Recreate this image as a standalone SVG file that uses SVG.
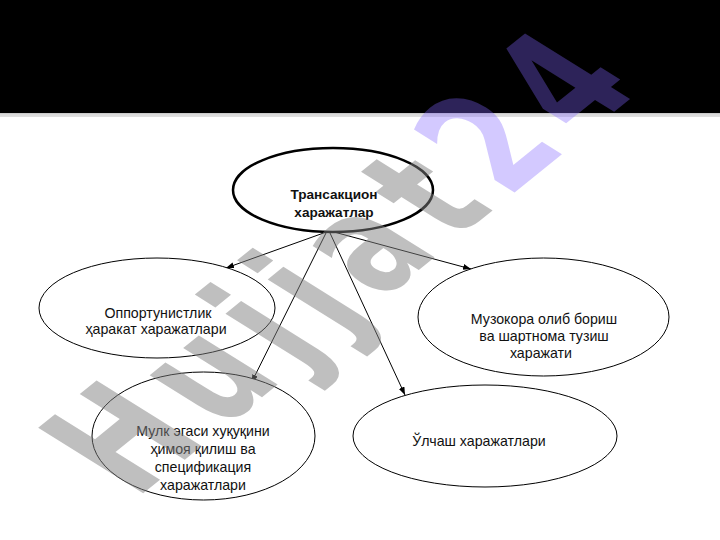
<svg xmlns="http://www.w3.org/2000/svg" width="720" height="540" viewBox="0 0 720 540">
<defs>
<style>
.node ellipse{fill:#fff;stroke:#000;stroke-width:1}
.node.main ellipse{stroke-width:2.5}
.lbl{font-family:"Liberation Sans","DejaVu Sans",sans-serif;font-size:14.2px;fill:#111;text-anchor:middle}
.bold{font-weight:bold;font-size:13.6px}
.conn line{stroke:#000;stroke-width:1;fill:none}
.wm{font-family:"DejaVu Sans",sans-serif;font-weight:bold;font-size:100px;letter-spacing:13px}
</style>
<marker id="arr" markerUnits="userSpaceOnUse" markerWidth="10" markerHeight="8" refX="8" refY="3" orient="auto">
<path d="M0,0 L8,3 L0,6 Z" fill="#000"/>
</marker>
</defs>
<rect x="0" y="0" width="720" height="540" fill="#fff"/>
<rect x="0" y="0" width="720" height="113" fill="#000"/>
<rect x="0" y="113.3" width="720" height="1.2" fill="#b4b4b4"/>
<rect x="0" y="114.5" width="720" height="2.4" fill="#dcdcdc"/>

<g id="connectors" class="conn">
<line x1="325" y1="232.5" x2="226" y2="268" marker-end="url(#arr)"/>
<line x1="334" y1="232" x2="471" y2="269" marker-end="url(#arr)"/>
<line x1="326" y1="233" x2="251.5" y2="382.5" marker-end="url(#arr)"/>
<line x1="330" y1="233" x2="405" y2="395" marker-end="url(#arr)"/>
</g>

<g id="n-main" class="node main">
<ellipse cx="333" cy="190" rx="100" ry="42"/>
<text class="lbl bold" x="334" y="199">Трансакцион</text>
<text class="lbl bold" x="334" y="216.5">харажатлар</text>
</g>

<g id="n-opportunistic" class="node">
<ellipse cx="157" cy="308" rx="118" ry="50"/>
<text class="lbl" x="158" y="317.5">Оппортунистлик</text>
<text class="lbl" x="156" y="334">ҳаракат харажатлари</text>
</g>

<g id="n-negotiation" class="node">
<ellipse cx="543.5" cy="317" rx="125.5" ry="59"/>
<text class="lbl" x="544" y="324">Музокора олиб бориш</text>
<text class="lbl" x="544" y="341">ва шартнома тузиш</text>
<text class="lbl" x="541" y="358">харажати</text>
</g>

<g id="n-property" class="node">
<ellipse cx="203.5" cy="436" rx="111.5" ry="64"/>
<text class="lbl" x="203" y="436">Мулк эгаси хуқуқини</text>
<text class="lbl" x="203" y="454">ҳимоя қилиш ва</text>
<text class="lbl" x="203" y="472">спецификация</text>
<text class="lbl" x="203" y="490">харажатлари</text>
</g>

<g id="n-measure" class="node">
<ellipse cx="485" cy="436" rx="132" ry="51"/>
<text class="lbl" x="479" y="445.5">Ўлчаш харажатлари</text>
</g>

<text class="wm" transform="matrix(0.894,-0.724,1.44,0.90,135,500)"><tspan fill="#808080" fill-opacity="0.5">Hujjat</tspan><tspan fill="rgb(130,100,255)" fill-opacity="0.35">24</tspan></text>
</svg>
